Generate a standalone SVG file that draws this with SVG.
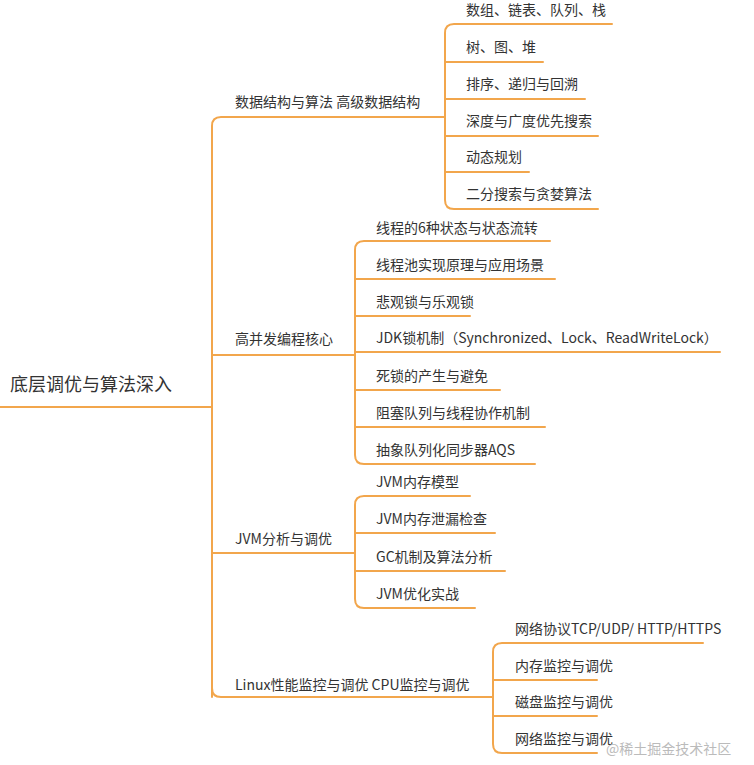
<svg xmlns="http://www.w3.org/2000/svg" width="754" height="765" viewBox="0 0 754 765">
<style>
.c{fill:none;stroke:#f2a64c;stroke-width:2;stroke-linecap:round}
text{font-family:"Noto Sans CJK SC","Noto Sans",sans-serif;font-size:14px;fill:#333}
.r{font-size:18px}
.w{fill:#bbb;font-size:14px}
</style>
<rect width="754" height="765" fill="#fff"/>
<g id="connectors">
<path class="c" d="M0 407H212"/>
<path class="c" d="M212 697V126Q212 117 221 117H445M212 407V355H355M212 553H355M221 697H493M212 688Q212 697 221 697"/>
<path class="c" d="M445 33Q445 24 454 24H612M445 200Q445 209 454 209H598M445 33V200M445 62H543M445 99H585M445 136H598M445 172H529"/>
<path class="c" d="M355 250Q355 241 364 241H550M355 455Q355 464 364 464H535M355 250V455M355 279H555M355 316H470M355 352H720M355 390H500M355 427H545"/>
<path class="c" d="M355 505Q355 496 364 496H470M355 599Q355 608 364 608H475M355 505V599M355 533H495M355 571H505"/>
<path class="c" d="M493 652Q493 643 502 643H703M493 744Q493 753 502 753H597M493 652V744M493 680H597M493 716H597"/>
</g>
<g id="root"><text class="r" x="10" y="391">底层调优与算法深入</text></g>
<g id="b1"><text x="235" y="107">数据结构与算法 高级数据结构</text></g>
<g id="b1c1"><text x="466" y="15">数组、链表、队列、栈</text></g>
<g id="b1c2"><text x="466" y="52">树、图、堆</text></g>
<g id="b1c3"><text x="466" y="89">排序、递归与回溯</text></g>
<g id="b1c4"><text x="466" y="126">深度与广度优先搜索</text></g>
<g id="b1c5"><text x="466" y="162">动态规划</text></g>
<g id="b1c6"><text x="466" y="199">二分搜索与贪婪算法</text></g>
<g id="b2"><text x="235" y="344">高并发编程核心</text></g>
<g id="b2c1"><text x="376" y="233">线程的6种状态与状态流转</text></g>
<g id="b2c2"><text x="376" y="270">线程池实现原理与应用场景</text></g>
<g id="b2c3"><text x="376" y="307">悲观锁与乐观锁</text></g>
<g id="b2c4"><text x="376" y="343">JDK锁机制（Synchronized、Lock、ReadWriteLock）</text></g>
<g id="b2c5"><text x="376" y="381">死锁的产生与避免</text></g>
<g id="b2c6"><text x="376" y="418">阻塞队列与线程协作机制</text></g>
<g id="b2c7"><text x="376" y="455">抽象队列化同步器AQS</text></g>
<g id="b3"><text x="235" y="544">JVM分析与调优</text></g>
<g id="b3c1"><text x="376" y="487">JVM内存模型</text></g>
<g id="b3c2"><text x="376" y="524">JVM内存泄漏检查</text></g>
<g id="b3c3"><text x="376" y="562">GC机制及算法分析</text></g>
<g id="b3c4"><text x="376" y="599">JVM优化实战</text></g>
<g id="b4"><text x="235" y="690">Linux性能监控与调优 CPU监控与调优</text></g>
<g id="b4c1"><text x="515" y="634">网络协议TCP/UDP/ HTTP/HTTPS</text></g>
<g id="b4c2"><text x="515" y="671">内存监控与调优</text></g>
<g id="b4c3"><text x="515" y="707">磁盘监控与调优</text></g>
<g id="b4c4"><text x="515" y="744">网络监控与调优</text></g>
<text class="w" x="606" y="754">@稀土掘金技术社区</text>
</svg>
